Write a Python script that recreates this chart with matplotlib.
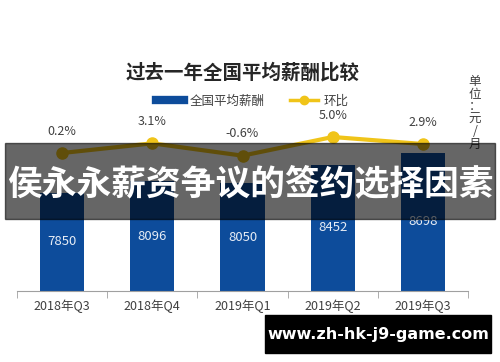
import numpy as np
import matplotlib.pyplot as plt
from matplotlib.lines import Line2D
from matplotlib.patches import Rectangle

plt.rcParams['font.family'] = ['Noto Sans CJK SC', 'DejaVu Sans']

# 数据
quarters = ['2018年Q3', '2018年Q4', '2019年Q1', '2019年Q2', '2019年Q3']
salary = [7850, 8096, 8050, 8452, 8698]
qoq = [0.2, 3.1, -0.6, 5.0, 2.9]
qoq_labels = ['0.2%', '3.1%', '-0.6%', '5.0%', '2.9%']

bar_color = '#0d4c9b'
line_color = '#f0c419'
text_color = '#404040'

W, H = 500, 362
fig = plt.figure(figsize=(W / 100, H / 100), dpi=100)

# 坐标区 (像素换算成比例)
left, right = 17 / W, 468 / W
bottom, top = 1 - 291 / H, 1 - 100 / H
ax = fig.add_axes([left, bottom, right - left, top - bottom])
ax2 = ax.twinx()

x = np.arange(len(quarters))
bars = ax.bar(x, salary, width=0.49, color=bar_color, zorder=2)
ax.set_xlim(-0.5, len(quarters) - 0.5)
ax.set_ylim(5770, 9820)

for b, v in zip(bars, salary):
    ax.text(b.get_x() + b.get_width() / 2, (5770 + v) / 2, str(v),
            ha='center', va='center', color='#e6ecf5', fontsize=9.5)

# 环比折线
ax2.plot(x, qoq, color=line_color, lw=3, marker='o', ms=8, zorder=3)
ax2.set_ylim(-41.2, 16.1)
for xi, v, lab in zip(x, qoq, qoq_labels):
    ax2.annotate(lab, (xi, v), xytext=(0, 11), textcoords='offset points',
                 ha='center', va='bottom', color=text_color, fontsize=9)

# 轴样式
for a in (ax, ax2):
    for s in ('top', 'left', 'right'):
        a.spines[s].set_visible(False)
    a.set_yticks([])
ax2.spines['bottom'].set_visible(False)
ax.spines['bottom'].set_color('#a0a0a0')
ax.set_xticks(x)
ax.set_xticklabels(quarters, fontsize=9, color=text_color)
ax.tick_params(axis='x', which='major', length=0, pad=6)
ax.set_xticks(np.arange(-0.5, len(quarters)), minor=True)
ax.tick_params(axis='x', which='minor', length=5, color='#a0a0a0')

# 标题与图例
fig.text(0.486, 1 - 73 / H, '过去一年全国平均薪酬比较', ha='center', va='center',
         fontsize=14, fontweight='bold', color='#262626')
handles = [Line2D([], [], color=bar_color, lw=6),
           Line2D([], [], color=line_color, lw=2.5, marker='o', ms=6)]
fig.legend(handles, ['全国平均薪酬', '环比'], loc='center',
           bbox_to_anchor=(0.505, 1 - 101 / H), ncol=2, frameon=False,
           fontsize=9, columnspacing=2.0, handlelength=2.2,
           handletextpad=0.5, labelcolor=text_color)

# 单位
fig.text(475 / W, 1 - 113 / H, '\n'.join('单位：元/月'), ha='center',
         va='center', fontsize=9, color=text_color, linespacing=0.95)

# 横幅
fig.patches.append(Rectangle((5 / W, 1 - 219 / H), 490 / W, 76 / H,
                             transform=fig.transFigure, color='black',
                             alpha=0.6, zorder=10))
fig.text(0.5, 1 - 184 / H, '侯永永薪资争议的签约选择因素', ha='center',
         va='center', fontsize=25, fontweight='bold', color='white', zorder=11)

# 水印
fig.patches.append(Rectangle((265 / W, 1 - 353 / H), 226 / W, 38 / H,
                             transform=fig.transFigure, color='black',
                             zorder=10))
fig.text(378 / W, 1 - 334 / H, 'www.zh-hk-j9-game.com', ha='center',
         va='center', fontsize=11.5, fontweight='bold', color='white',
         family='DejaVu Sans', zorder=11)

fig.savefig('out.png', dpi=100)
